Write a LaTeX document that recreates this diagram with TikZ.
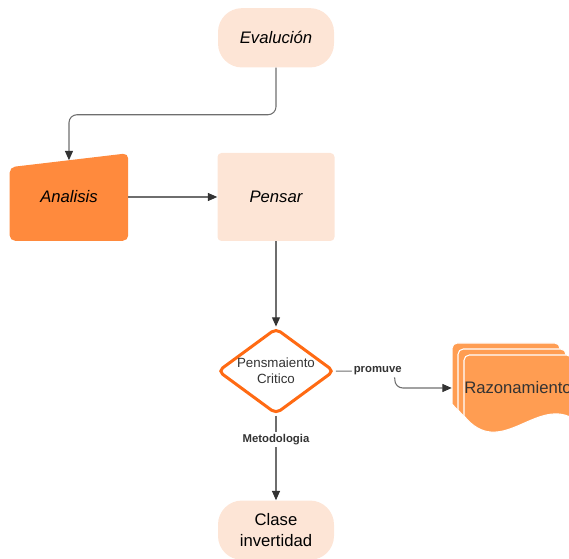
\documentclass[tikz,border=0pt]{standalone}
\usepackage{fontspec}
\setmainfont{Liberation Sans}
\usetikzlibrary{arrows.meta,positioning,shapes.geometric,backgrounds}
\definecolor{peach}{RGB}{253,229,214}
\definecolor{deeporange}{RGB}{255,138,61}
\definecolor{lineorange}{RGB}{255,106,19}
\definecolor{paperorange}{RGB}{255,157,82}
\definecolor{darkline}{RGB}{51,51,51}
\definecolor{greyline}{RGB}{110,110,110}

\begin{document}
\begin{tikzpicture}[
    x=0.75pt, y=-0.75pt,
    node distance=64pt,
    term/.style={fill=peach, rounded corners=18pt, minimum width=87pt, minimum height=44.5pt, align=center, font=\fontsize{12.5}{15.5}\selectfont},
    proc/.style={fill=peach, rounded corners=3pt, minimum width=87.75pt, minimum height=66pt, align=center, font=\itshape\fontsize{12.5}{15}\selectfont},
    manual/.style={minimum width=88.5pt, minimum height=65.25pt, align=center, font=\itshape\fontsize{12.5}{15}\selectfont},
    decision/.style={diamond, draw=lineorange, line width=2.25pt, fill=white, rounded corners=4pt, aspect=1.35, inner sep=0pt, minimum width=87.5pt, minimum height=64.5pt, align=center, text=darkline, font=\fontsize{10}{12}\selectfont},
    stack/.style={fill=paperorange, draw=white, line width=0.8pt},
    arr/.style={-{Triangle[length=7pt, width=6pt, color=darkline]}, greyline, line width=0.8pt},
    lbl/.style={fill=white, inner sep=1.5pt, text=darkline, font=\bfseries\fontsize{8.5}{10}\selectfont}
  ]
  \useasboundingbox (0,0) rectangle (569,559);
  \clip (0,0) rectangle (569,559);

  \node[proc] (pensar) at (276,197) {Pensar};
  \node[term, font=\itshape\fontsize{12.5}{15}\selectfont, above=63.75pt of pensar] (eval) {Evalución};
  \node[manual, left=66.75pt of pensar] (analisis) {Analisis};
  \node[decision, below=64pt of pensar] (dia) {Pensmaiento\\Critico};
  \node[term, below=63.5pt of dia] (clase) {Clase\\invertidad};

  % hoja de razonamiento (tres capas)
  \foreach \d in {12,6,0} {
    \filldraw[stack, shift={(-\d,-\d)}] (464,418) [rounded corners=4pt] -- (464,355) -- (572,355) [sharp corners] -- (572,418)
      .. controls (535,398) and (500,460) .. (464,416) -- cycle;
  }
  \node[minimum width=81pt, minimum height=49.5pt, inner sep=0pt, text=darkline, font=\fontsize{12.5}{15}\selectfont] (raz) at (518,388) {Razonamiento};

  \begin{scope}[on background layer]
    \fill[deeporange, rounded corners=4pt] (analisis.south west) -- ([yshift=-10.5pt]analisis.north west)
      -- (analisis.north east) -- (analisis.south east) -- cycle;
  \end{scope}
  \coordinate (atop) at ([yshift=-5.25pt]analisis.north);

  \draw[arr, rounded corners=6pt] (eval.south) -- ++(0,-35.25pt) -| (atop);
  \draw[arr] (analisis) -- (pensar);
  \draw[arr] (pensar) -- (dia);
  \draw[arr, rounded corners=6pt] (dia.east) -- ++(44.25pt,0) node[lbl, pos=0.71] {promuve} |- ([xshift=-9pt]raz.west);
  \draw[arr] (dia.south) -- node[lbl, pos=0.28] {Metodologia} (clase.north);
\end{tikzpicture}
\end{document}
